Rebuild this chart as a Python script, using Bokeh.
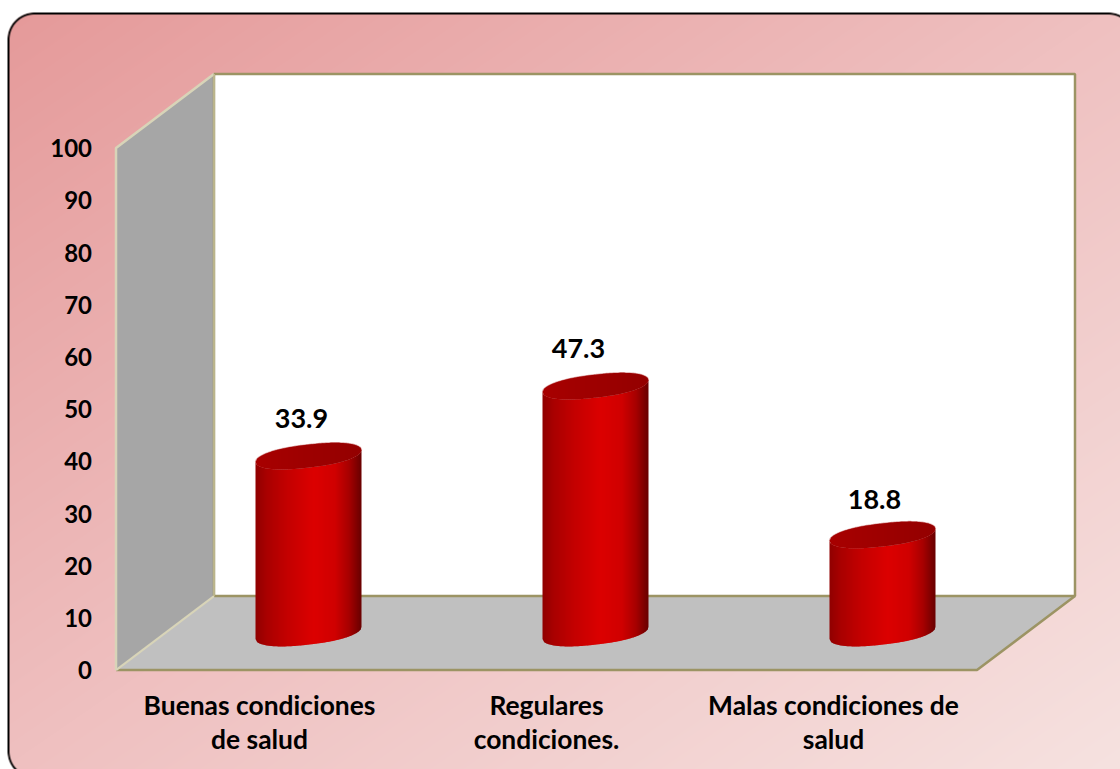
import numpy as np
from bokeh.core.properties import value
from bokeh.embed import file_html
from bokeh.models import FixedTicker, LinearAxis, Range1d
from bokeh.plotting import figure
from bokeh.resources import INLINE

# Chart data
categories = ["Buenas condiciones\nde salud", "Regulares\ncondiciones.", "Malas condiciones de\nsalud"]
percentages = [33.9, 47.3, 18.8]
percent_labels = ["33.9", "47.3", "18.8"]
axis_ticks = [0, 10, 20, 30, 40, 50, 60, 70, 80, 90, 100]

# Page and 3D box geometry (pixels)
W, H = 1120, 769
ORIGIN_X, ORIGIN_Y = 115.5, 669.6
PX_PER_CAT = 287.0
PX_PER_UNIT = 5.22
DEPTH_X, DEPTH_Y = 98.0, 74.0
AXIS_MAX = axis_ticks[-1]
N_CATS = len(categories)

FONT = value("Lato")
CREAM = "#d8d4b8"
OLIVE = "#9c9464"


def u(px):
    return (px - ORIGIN_X) / PX_PER_CAT


def v(px):
    return (ORIGIN_Y - px) / PX_PER_UNIT


p = figure(
    width=W, height=H, output_backend="svg", toolbar_location=None, min_border=0,
    x_range=Range1d(u(0), u(W)), y_range=Range1d(v(H), v(0)),
    x_axis_type=None, y_axis_type=None,
)
p.grid.visible = False
p.outline_line_color = None
p.background_fill_alpha = 0
p.border_fill_alpha = 0

# Panel background: diagonal gradient inside a rounded rectangle with a black edge
yy, xx = np.mgrid[0:H, 0:W]
xx = xx + 0.5
yy = yy + 0.5
t = (xx / W + yy / H) / 2
stops_t = [0.0, 0.5, 1.0]
red = np.interp(t, stops_t, [0xE5, 0xEF, 0xF6])
green = np.interp(t, stops_t, [0x99, 0xC0, 0xE2])
blue = np.interp(t, stops_t, [0x99, 0xC0, 0xE0])
x0, y0, x1, y1, r = 8.0, 13.0, 1134.0, 777.0, 26.0
qx = np.abs(xx - (x0 + x1) / 2) - ((x1 - x0) / 2 - r)
qy = np.abs(yy - (y0 + y1) / 2) - ((y1 - y0) / 2 - r)
dist = np.hypot(np.maximum(qx, 0), np.maximum(qy, 0)) + np.minimum(np.maximum(qx, qy), 0) - r
inside = np.clip(0.5 - dist, 0, 1)
ink = np.clip(1.5 - np.abs(dist), 0, 1)
rgba = np.zeros((H, W, 4), dtype=np.uint8)
rgba[..., 0] = red * (1 - ink)
rgba[..., 1] = green * (1 - ink)
rgba[..., 2] = blue * (1 - ink)
rgba[..., 3] = 255 * np.maximum(inside, ink)
p.image_rgba(image=[rgba[::-1].view(np.uint32).reshape(H, W)], x=u(0), y=v(H), dw=u(W) - u(0), dh=v(0) - v(H))

# Box walls and floor
du = DEPTH_X / PX_PER_CAT
dv = DEPTH_Y / PX_PER_UNIT
p.patch([0, du, du, 0], [0, dv, AXIS_MAX + dv, AXIS_MAX], fill_color="#a6a6a6", line_color=None)
p.patch([du, N_CATS + du, N_CATS + du, du], [dv, dv, AXIS_MAX + dv, AXIS_MAX + dv], fill_color="white", line_color=None)
p.patch([0, N_CATS, N_CATS + du, du], [0, 0, dv, dv], fill_color="#c0c0c0", line_color=None)

p.line([du, du, N_CATS + du, N_CATS + du, du], [dv, AXIS_MAX + dv, AXIS_MAX + dv, dv, dv], line_color=OLIVE, line_width=2.5)
p.line([N_CATS + du, N_CATS, 0], [dv, 0, 0], line_color=OLIVE, line_width=2.5)
p.line([0, 0, du, du], [0, AXIS_MAX, AXIS_MAX + dv, AXIS_MAX + dv], line_color=CREAM, line_width=2.5)
p.line([0, du], [0, dv], line_color=CREAM, line_width=2)
p.line([du, du], [dv, AXIS_MAX + dv], line_color="#c4bf98", line_width=1.5)

# Cylinders: vertical shaded strips closed by sheared ellipses
HALF_W = 53.0 / PX_PER_CAT
HALF_B = 11.5 / PX_PER_UNIT
SLOPE = 0.113 * PX_PER_CAT / PX_PER_UNIT
shade_at = [0.0, 0.10, 0.30, 0.55, 0.75, 0.88, 1.0]
shade_r = [0x90, 0xA8, 0xC4, 0xDC, 0xD0, 0xA8, 0x68]
lid_shade = [0xA8, 0x94]


def rim(s, sign):
    return SLOPE * s * HALF_W + sign * HALF_B * np.clip(1 - np.abs(s) ** 2.4, 0, 1) ** 0.5


base_v = 0.5 * dv
for i, val in enumerate(percentages):
    cx = i + 0.5 + 0.5 * du
    top_v = base_v + val
    edges = np.linspace(-1, 1, 54)
    xs, ys, fills = [], [], []
    lid_xs, lid_ys, lid_fills = [], [], []
    for a, b in zip(edges[:-1], edges[1:]):
        b2 = min(b + 0.02, 1.0)
        sa = np.linspace(a, b2, 3)
        strip_x = list(cx + sa * HALF_W) + list(cx + sa[::-1] * HALF_W)
        xs.append(strip_x)
        ys.append(list(base_v + rim(sa, -1)) + list(top_v + rim(sa[::-1], -1)))
        fills.append("#%02x0000" % int(np.interp((a + b + 2) / 4, shade_at, shade_r)))
        lid_xs.append(strip_x)
        lid_ys.append(list(top_v + rim(sa, -1)) + list(top_v + rim(sa[::-1], 1)))
        lid_fills.append("#%02x0000" % int(np.interp((a + b + 2) / 4, [0, 1], lid_shade)))
    p.patches(xs, ys, fill_color=fills, line_color=None)
    p.patches(lid_xs, lid_ys, fill_color=lid_fills, line_color=None)
    s = np.linspace(-1, 1, 121)
    p.line(list(cx + s * HALF_W), list(top_v + rim(s, 1)), line_color="#a00000", line_alpha=0.35, line_width=1.5)

# Value labels above each cylinder
label_dx = [-7, -17, -8]
label_dy = [-38, -38, -35]
p.text(
    [i + 0.5 + 0.5 * du for i in range(N_CATS)], [base_v + val for val in percentages],
    text=percent_labels, x_offset=label_dx, y_offset=label_dy,
    text_font=FONT, text_font_style="bold", text_font_size="27px", text_color="black",
    text_align="center", text_baseline="middle",
)

# Category labels under the floor
p.text(
    [i + 0.5 for i in range(N_CATS)], [v(706)] * N_CATS, text=categories,
    text_font=FONT, text_font_style="bold", text_font_size="26.4px", text_color="black",
    text_align="center", text_baseline="top", y_offset=-18, text_line_height=1.07,
)

# Value axis fixed at the front edge of the left wall
axis = LinearAxis(
    fixed_location=0,
    ticker=FixedTicker(ticks=axis_ticks),
    axis_line_color=None, major_tick_line_color=None, minor_tick_line_color=None,
    major_tick_in=0, major_tick_out=0, major_label_standoff=24,
    major_label_text_font="Lato", major_label_text_font_style="bold",
    major_label_text_font_size="24px", major_label_text_color="black",
)
p.add_layout(axis, "left")

open("out.html", "w").write(file_html(p, INLINE))
